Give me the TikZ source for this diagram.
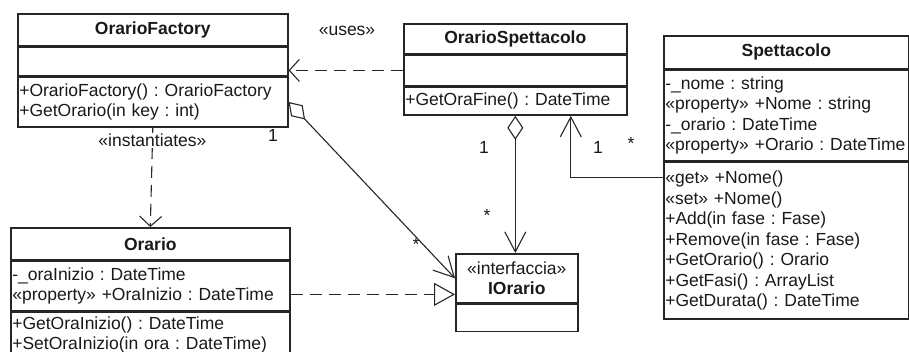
\documentclass[tikz,border=0pt]{standalone}
\usepackage{fontspec}
\setmainfont{Liberation Sans}
\usetikzlibrary{arrows.meta, positioning}
\frenchspacing
\hyphenpenalty=10000

\begin{document}
\begin{tikzpicture}[
  x=1pt, y=-1pt,
  every node/.style={font=\fontsize{17.5}{20.5}\selectfont, text=black!90},
  box/.style={draw=black!85, line width=1.6pt, inner xsep=1.5pt, inner ysep=0pt},
  head/.style={box, align=center, anchor=north west, font=\fontsize{17.5}{20.5}\selectfont\bfseries},
  part/.style={box, align=left},
  lbl/.style={inner sep=1pt},
  dep/.style={draw=black!85, line width=1.1pt, dash pattern=on 12pt off 7pt, -{Straight Barb[length=10pt, width=22pt]}},
  assoc/.style={draw=black!85, line width=1.1pt, -{Straight Barb[length=20pt, width=21pt]}},
  aggr/.style={draw=black!85, line width=1.1pt, {Diamond[open, length=24pt, width=16pt]}-{Straight Barb[length=20pt, width=21pt]}},
  real/.style={draw=black!85, line width=1.1pt, dash pattern=on 12pt off 7pt, -{Triangle[open, length=21pt, width=23pt]}}
]
  \useasboundingbox (0,0) rectangle (909,352);

  % classes
  \node[head, text width=267pt, minimum height=32pt] (fact) at (17,13) {OrarioFactory};
  \node[part, text width=267pt, minimum height=28pt, below=0pt of fact] (factattr) {};
  \node[part, text width=267pt, minimum height=50pt, below=0pt of factattr] (factops) {+OrarioFactory() : OrarioFactory\\+GetOrario(in key : int)};

  \node[head, text width=220pt, minimum height=30pt] (ost) at (403,23) {OrarioSpettacolo};
  \node[part, text width=220pt, minimum height=30pt, below=0pt of ost] (osattr) {};
  \node[part, text width=220pt, minimum height=28pt, below=0pt of osattr] (osops) {+GetOraFine() : DateTime};

  \node[head, text width=242pt, minimum height=33pt] (spt) at (663,35) {Spettacolo};
  \node[part, text width=242pt, minimum height=90pt, below=0pt of spt] (spattr) {-\_nome : string\\«property» +Nome : string\\-\_orario : DateTime\\«property» +Orario : DateTime};
  \node[part, text width=242pt, minimum height=157pt, below=0pt of spattr] (spops) {«get» +Nome()\\«set» +Nome()\\+Add(in fase : Fase)\\+Remove(in fase : Fase)\\+GetOrario() : Orario\\+GetFasi() : ArrayList\\+GetDurata() : DateTime};

  \node[head, text width=276pt, minimum height=32pt] (ort) at (10,227) {Orario};
  \node[part, text width=276pt, minimum height=49pt, below=0pt of ort] (orattr) {-\_oraInizio : DateTime\\«property» +OraInizio : DateTime};
  \node[part, text width=276pt, minimum height=46pt, below=0pt of orattr] (orops) {+GetOraInizio() : DateTime\\+SetOraInizio(in ora : DateTime)};

  \node[head, text width=119pt, minimum height=49pt, font=\fontsize{17.5}{20.5}\selectfont] (iot) at (455,253) {«interfaccia»\\\textbf{IOrario}};
  \node[part, text width=119pt, minimum height=27pt, below=0pt of iot] (ioattr) {};

  % relations
  \draw[dep] (osattr.west) -- (osattr.west -| factattr.east);
  \node[lbl] (uses) at (347,31) {«uses»};

  \draw[dep] (factops.south) -- (ort.north) node[lbl, pos=0.13, fill=white] (inst) {«instantiates»};

  \draw[aggr] (factops.east) -- (iot.west);
  \node[lbl] (fact1) at (273,135) {1};
  \node[lbl] (factn) at (416,244) {*};

  \draw[aggr] (osops.south) -- (osops.south |- iot.north);
  \node[lbl] (os1) at (484,147) {1};
  \node[lbl] (osn) at (487,215) {*};

  \draw[assoc] ([yshift=-16pt]spops.north west) -| ([xshift=55.5pt]osops.south);
  \node[lbl] (sp1) at (598,147) {1};
  \node[lbl] (spn) at (631,143) {*};

  \draw[real] ([yshift=-8.5pt]orattr.east) -- ([yshift=-8.5pt]orattr.east -| iot.west);
\end{tikzpicture}
\end{document}
